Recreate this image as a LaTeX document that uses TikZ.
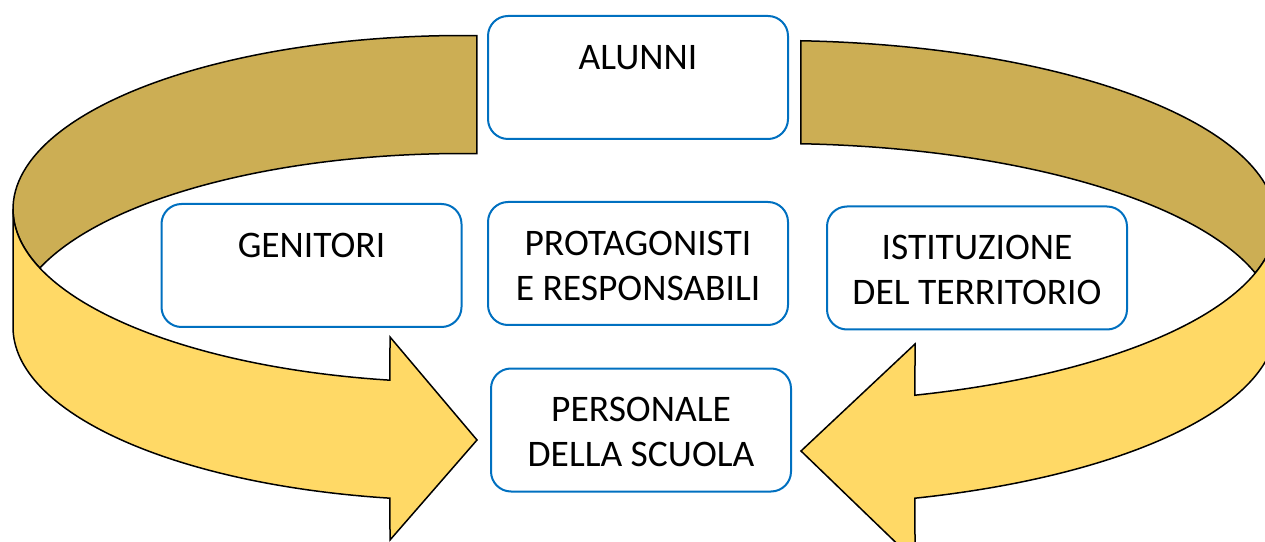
\documentclass[tikz,border=0pt]{standalone}
\usepackage{fontspec}
\setmainfont{Carlito}
\usetikzlibrary{calc}
\definecolor{oroscuro}{RGB}{204,174,84}
\definecolor{oro}{RGB}{255,217,102}
\definecolor{blu}{RGB}{0,112,192}
\newcommand{\testo}[1]{\parbox[c][65pt][t]{290pt}{\centering #1}}

\begin{document}
\begin{tikzpicture}[x=1pt,y=1pt,
    retro/.style={fill=oroscuro,draw=black,line width=1.5pt},
    fronte/.style={fill=oro,draw=black,line width=1.5pt},
    riquadro/.style={draw=blu,line width=2pt,fill=white,rounded corners=20pt,
      minimum width=300pt,minimum height=123pt,inner sep=0pt,
      font=\fontsize{37.5}{45}\selectfont}]
\useasboundingbox (0,0) rectangle (1265,541);
\clip (0,0) rectangle (1265,541);
% freccia di sinistra
\coordinate (Lsu) at (463,332);
\coordinate (Lgiu) at (463,214);
\draw[retro] ($(Lsu)+(88.22:450pt and 173.5pt)$)
    arc[start angle=88.22,end angle=199.88,x radius=450pt,y radius=173.5pt]
    -- ($(Lgiu)+(160.12:450pt and 173.5pt)$)
    arc[start angle=160.12,end angle=88.22,x radius=450pt,y radius=173.5pt] -- cycle;
\draw[fronte] ($(Lsu)+(180:450pt and 173.5pt)$)
    arc[start angle=180,end angle=260.66,x radius=450pt,y radius=173.5pt]
    -- (390,204) -- (477,101) -- (390,1)
    -- ($(Lgiu)+(260.66:450pt and 173.5pt)$)
    arc[start angle=260.66,end angle=180,x radius=450pt,y radius=173.5pt] -- cycle;
% freccia di destra
\coordinate (Rsu) at (774,319.5);
\coordinate (Rgiu) at (774,216.5);
\draw[retro] ($(Rsu)+(86.92:502pt and 181pt)$)
    arc[start angle=86.92,end angle=-16.53,x radius=502pt,y radius=181pt]
    -- ($(Rgiu)+(16.53:502pt and 181pt)$)
    arc[start angle=16.53,end angle=86.92,x radius=502pt,y radius=181pt] -- cycle;
\draw[fronte] ($(Rsu)+(0:502pt and 181pt)$)
    arc[start angle=0,end angle=-73.69,x radius=502pt,y radius=181pt]
    -- (915,197) -- (801,90) -- (915,-20)
    -- ($(Rgiu)+(-73.69:502pt and 181pt)$)
    arc[start angle=-73.69,end angle=0,x radius=502pt,y radius=181pt] -- cycle;
% riquadri
\node[riquadro] (alunni) at (638,463.5) {\testo{ALUNNI}};
\node[riquadro] (genitori) at (311.5,275.5) {\testo{GENITORI}};
\node[riquadro] (protagonisti) at (638,277.5) {\testo{PROTAGONISTI\\E RESPONSABILI}};
\node[riquadro] (istituzione) at (977,273) {\testo{ISTITUZIONE\\DEL TERRITORIO}};
\node[riquadro] (personale) at (641,111) {\testo{PERSONALE\\DELLA SCUOLA}};
\end{tikzpicture}
\end{document}
